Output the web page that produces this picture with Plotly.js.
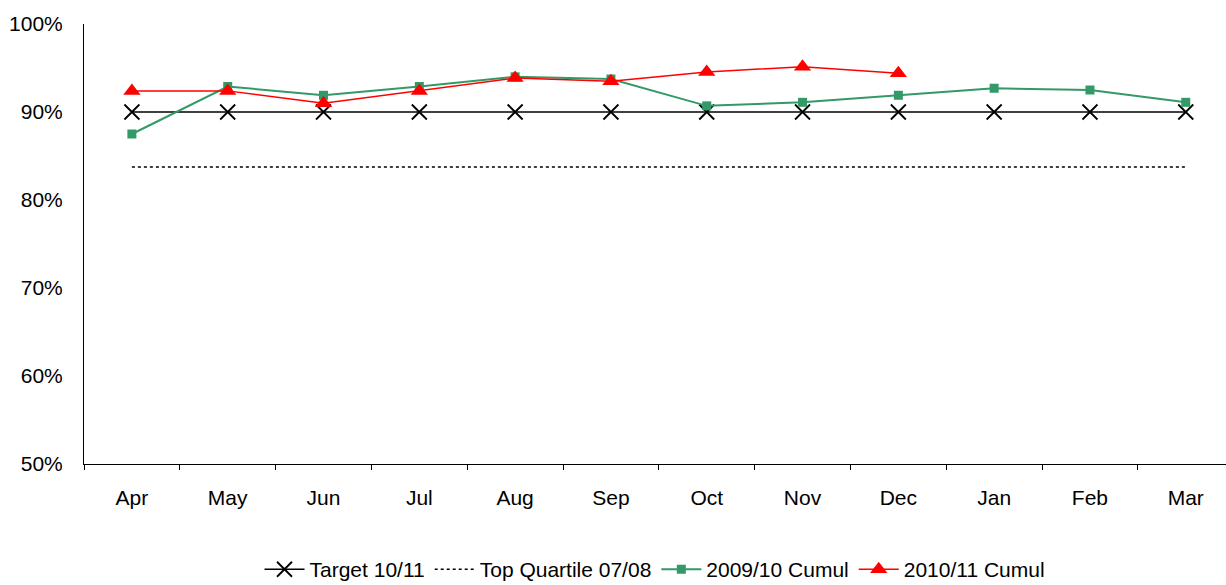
<!DOCTYPE html>
<html>
<head>
<meta charset="utf-8">
<script src="https://cdn.plot.ly/plotly-3.0.1.min.js"></script>
<style>html,body{margin:0;padding:0;background:#fff;overflow:hidden;}#chart{width:1226px;height:585px;}</style>
</head>
<body>
<div id="chart"></div>
<script>
const months = ["Apr","May","Jun","Jul","Aug","Sep","Oct","Nov","Dec","Jan","Feb","Mar"];
const target1011 = [90,90,90,90,90,90,90,90,90,90,90,90];
const topQuartile0708 = [83.75,83.75,83.75,83.75,83.75,83.75,83.75,83.75,83.75,83.75,83.75,83.75];
const cumul0910 = [87.5,92.9,91.9,92.9,94.0,93.75,90.7,91.1,91.9,92.7,92.5,91.1];
const cumul1011 = [92.4,92.4,91.0,92.4,93.85,93.5,94.55,95.15,94.4,null,null,null];
const yTicks = [50,60,70,80,90,100];
const yTickText = ["50%","60%","70%","80%","90%","100%"];

const traces = [
  {x: months, y: target1011, name: "Target 10/11", type: "scatter", mode: "lines+markers",
   line: {color: "#000000", width: 1.5}, marker: {symbol: "x-thin-open", size: 15, color: "#000000", line: {color: "#000000", width: 1.8}}},
  {x: months, y: topQuartile0708, name: "Top Quartile 07/08", type: "scatter", mode: "lines",
   line: {color: "#000000", width: 1.5, dash: "dot"}},
  {x: months, y: cumul0910, name: "2009/10 Cumul", type: "scatter", mode: "lines+markers",
   line: {color: "#339966", width: 2}, marker: {symbol: "square", size: 9, color: "#339966"}},
  {x: months, y: cumul1011, name: "2010/11 Cumul", type: "scatter", mode: "lines+markers",
   line: {color: "#FF0000", width: 1.5}, marker: {symbol: "triangle-up", size: 15, color: "#FF0000"}}
];

const layout = {
  width: 1226, height: 585,
  margin: {l: 84, r: 0, t: 24, b: 121, autoexpand: false},
  paper_bgcolor: "#ffffff", plot_bgcolor: "#ffffff",
  font: {family: "Liberation Sans, Arial, sans-serif", size: 21, color: "#000000"},
  showlegend: true,
  legend: {orientation: "h", x: 0.5, xanchor: "center", y: -0.24, yanchor: "middle",
           font: {size: 21, color: "#000000"}, traceorder: "normal", itemwidth: 40},
  xaxis: {type: "category", range: [-0.5, 11.42], showgrid: false, zeroline: false,
          showline: true, linecolor: "#000000", linewidth: 1,
          ticks: "outside", tickson: "boundaries", ticklen: 5, tickcolor: "#000000",
          tickfont: {size: 21}, ticklabelstandoff: 15},
  yaxis: {range: [50, 100], tickvals: yTicks, ticktext: yTickText, showgrid: false, zeroline: false,
          showline: true, linecolor: "#000000", linewidth: 1, ticks: "", tickfont: {size: 21},
          ticklabelstandoff: 16}
};

Plotly.newPlot("chart", traces, layout, {displayModeBar: false, staticPlot: true});
</script>
</body>
</html>
